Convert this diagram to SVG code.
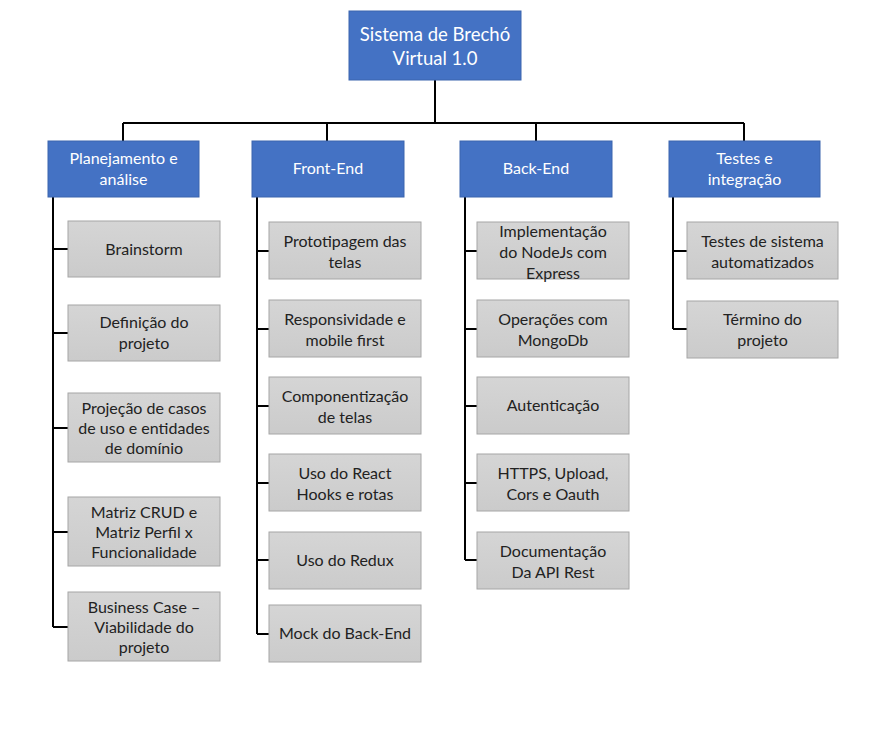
<svg xmlns="http://www.w3.org/2000/svg" width="885" height="742" viewBox="0 0 885 742">
  <style>
    .main rect { fill: #4472C4; stroke: #3A64AE; stroke-width: 1; }
    .main text { fill: #FFFFFF; font-family: Lato, "Open Sans", sans-serif; font-size: 16px; text-anchor: middle; }
    #root text { font-size: 18.5px; }
    .task rect { fill: url(#grey); stroke: #A6A6A6; stroke-width: 1; }
    .task text { fill: #222222; font-family: Lato, "Open Sans", sans-serif; font-size: 16px; text-anchor: middle; }
    #connectors path { fill: none; stroke: #000000; stroke-width: 2; }
  </style>
  <defs>
    <linearGradient id="grey" x1="0" y1="0" x2="0" y2="1">
      <stop offset="0" stop-color="#D5D5D5"/>
      <stop offset="1" stop-color="#CBCBCB"/>
    </linearGradient>
  </defs>
  <rect width="885" height="742" fill="#FFFFFF"/>

  <g id="connectors">
    <!-- root to bus -->
    <path d="M435 80 V123 M123 123 H744"/>
    <path d="M123 123 V141 M327 123 V141 M536 123 V141 M744 123 V141"/>
    <!-- Planejamento branch -->
    <path d="M53 197 V627 M53 249 H68 M53 333 H68 M53 428 H68 M53 532 H68 M53 627 H68"/>
    <!-- Front-End branch -->
    <path d="M257 197 V634 M257 251 H269 M257 329 H269 M257 406 H269 M257 483 H269 M257 560 H269 M257 634 H269"/>
    <!-- Back-End branch -->
    <path d="M465 197 V560 M465 251 H477 M465 329 H477 M465 406 H477 M465 483 H477 M465 560 H477"/>
    <!-- Testes branch -->
    <path d="M673 197 V329 M673 251 H687 M673 329 H687"/>
  </g>

  <g id="root" class="main">
    <rect x="349" y="11" width="172" height="69"/>
    <text x="435" y="41">Sistema de Brechó</text>
    <text x="435" y="65">Virtual 1.0</text>
  </g>

  <g id="planejamento" class="main">
    <rect x="48" y="141" width="151" height="56"/>
    <text x="123.5" y="164">Planejamento e</text>
    <text x="123.5" y="185">análise</text>
  </g>
  <g id="frontend" class="main">
    <rect x="252" y="141" width="152" height="56"/>
    <text x="328" y="174">Front-End</text>
  </g>
  <g id="backend" class="main">
    <rect x="460" y="141" width="152" height="56"/>
    <text x="536" y="174">Back-End</text>
  </g>
  <g id="testes" class="main">
    <rect x="669" y="141" width="151" height="56"/>
    <text x="744.5" y="164">Testes e</text>
    <text x="744.5" y="185">integração</text>
  </g>

  <!-- Planejamento e análise tasks -->
  <g id="brainstorm" class="task">
    <rect x="68" y="221" width="152" height="56"/>
    <text x="144" y="255">Brainstorm</text>
  </g>
  <g id="definicao" class="task">
    <rect x="68" y="305" width="152" height="56"/>
    <text x="144" y="328">Definição do</text>
    <text x="144" y="349">projeto</text>
  </g>
  <g id="projecao" class="task">
    <rect x="68" y="393" width="152" height="69"/>
    <text x="144" y="414">Projeção de casos</text>
    <text x="144" y="434">de uso e entidades</text>
    <text x="144" y="454">de domínio</text>
  </g>
  <g id="matriz" class="task">
    <rect x="68" y="497" width="152" height="69"/>
    <text x="144" y="518">Matriz CRUD e</text>
    <text x="144" y="538">Matriz Perfil x</text>
    <text x="144" y="558">Funcionalidade</text>
  </g>
  <g id="business" class="task">
    <rect x="68" y="592" width="152" height="69"/>
    <text x="144" y="613">Business Case –</text>
    <text x="144" y="633">Viabilidade do</text>
    <text x="144" y="653">projeto</text>
  </g>

  <!-- Front-End tasks -->
  <g id="prototipagem" class="task">
    <rect x="269" y="222" width="152" height="57"/>
    <text x="345" y="247">Prototipagem das</text>
    <text x="345" y="268">telas</text>
  </g>
  <g id="responsividade" class="task">
    <rect x="269" y="300" width="152" height="57"/>
    <text x="345" y="325">Responsividade e</text>
    <text x="345" y="346">mobile first</text>
  </g>
  <g id="componentizacao" class="task">
    <rect x="269" y="377" width="152" height="57"/>
    <text x="345" y="402">Componentização</text>
    <text x="345" y="423">de telas</text>
  </g>
  <g id="react" class="task">
    <rect x="269" y="454" width="152" height="57"/>
    <text x="345" y="479">Uso do React</text>
    <text x="345" y="500">Hooks e rotas</text>
  </g>
  <g id="redux" class="task">
    <rect x="269" y="532" width="152" height="57"/>
    <text x="345" y="566">Uso do Redux</text>
  </g>
  <g id="mock" class="task">
    <rect x="269" y="605" width="152" height="57"/>
    <text x="345" y="639">Mock do Back-End</text>
  </g>

  <!-- Back-End tasks -->
  <g id="nodejs" class="task">
    <rect x="477" y="222" width="152" height="57"/>
    <text x="553" y="237">Implementação</text>
    <text x="553" y="258">do NodeJs com</text>
    <text x="553" y="279">Express</text>
  </g>
  <g id="mongodb" class="task">
    <rect x="477" y="300" width="152" height="57"/>
    <text x="553" y="325">Operações com</text>
    <text x="553" y="346">MongoDb</text>
  </g>
  <g id="autenticacao" class="task">
    <rect x="477" y="377" width="152" height="57"/>
    <text x="553" y="411">Autenticação</text>
  </g>
  <g id="https" class="task">
    <rect x="477" y="454" width="152" height="57"/>
    <text x="553" y="479">HTTPS, Upload,</text>
    <text x="553" y="500">Cors e Oauth</text>
  </g>
  <g id="documentacao" class="task">
    <rect x="477" y="532" width="152" height="57"/>
    <text x="553" y="557">Documentação</text>
    <text x="553" y="578">Da API Rest</text>
  </g>

  <!-- Testes e integração tasks -->
  <g id="testes-sistema" class="task">
    <rect x="687" y="222" width="151" height="57"/>
    <text x="762.5" y="247">Testes de sistema</text>
    <text x="762.5" y="268">automatizados</text>
  </g>
  <g id="termino" class="task">
    <rect x="687" y="301" width="151" height="57"/>
    <text x="762.5" y="325">Término do</text>
    <text x="762.5" y="346">projeto</text>
  </g>
</svg>
